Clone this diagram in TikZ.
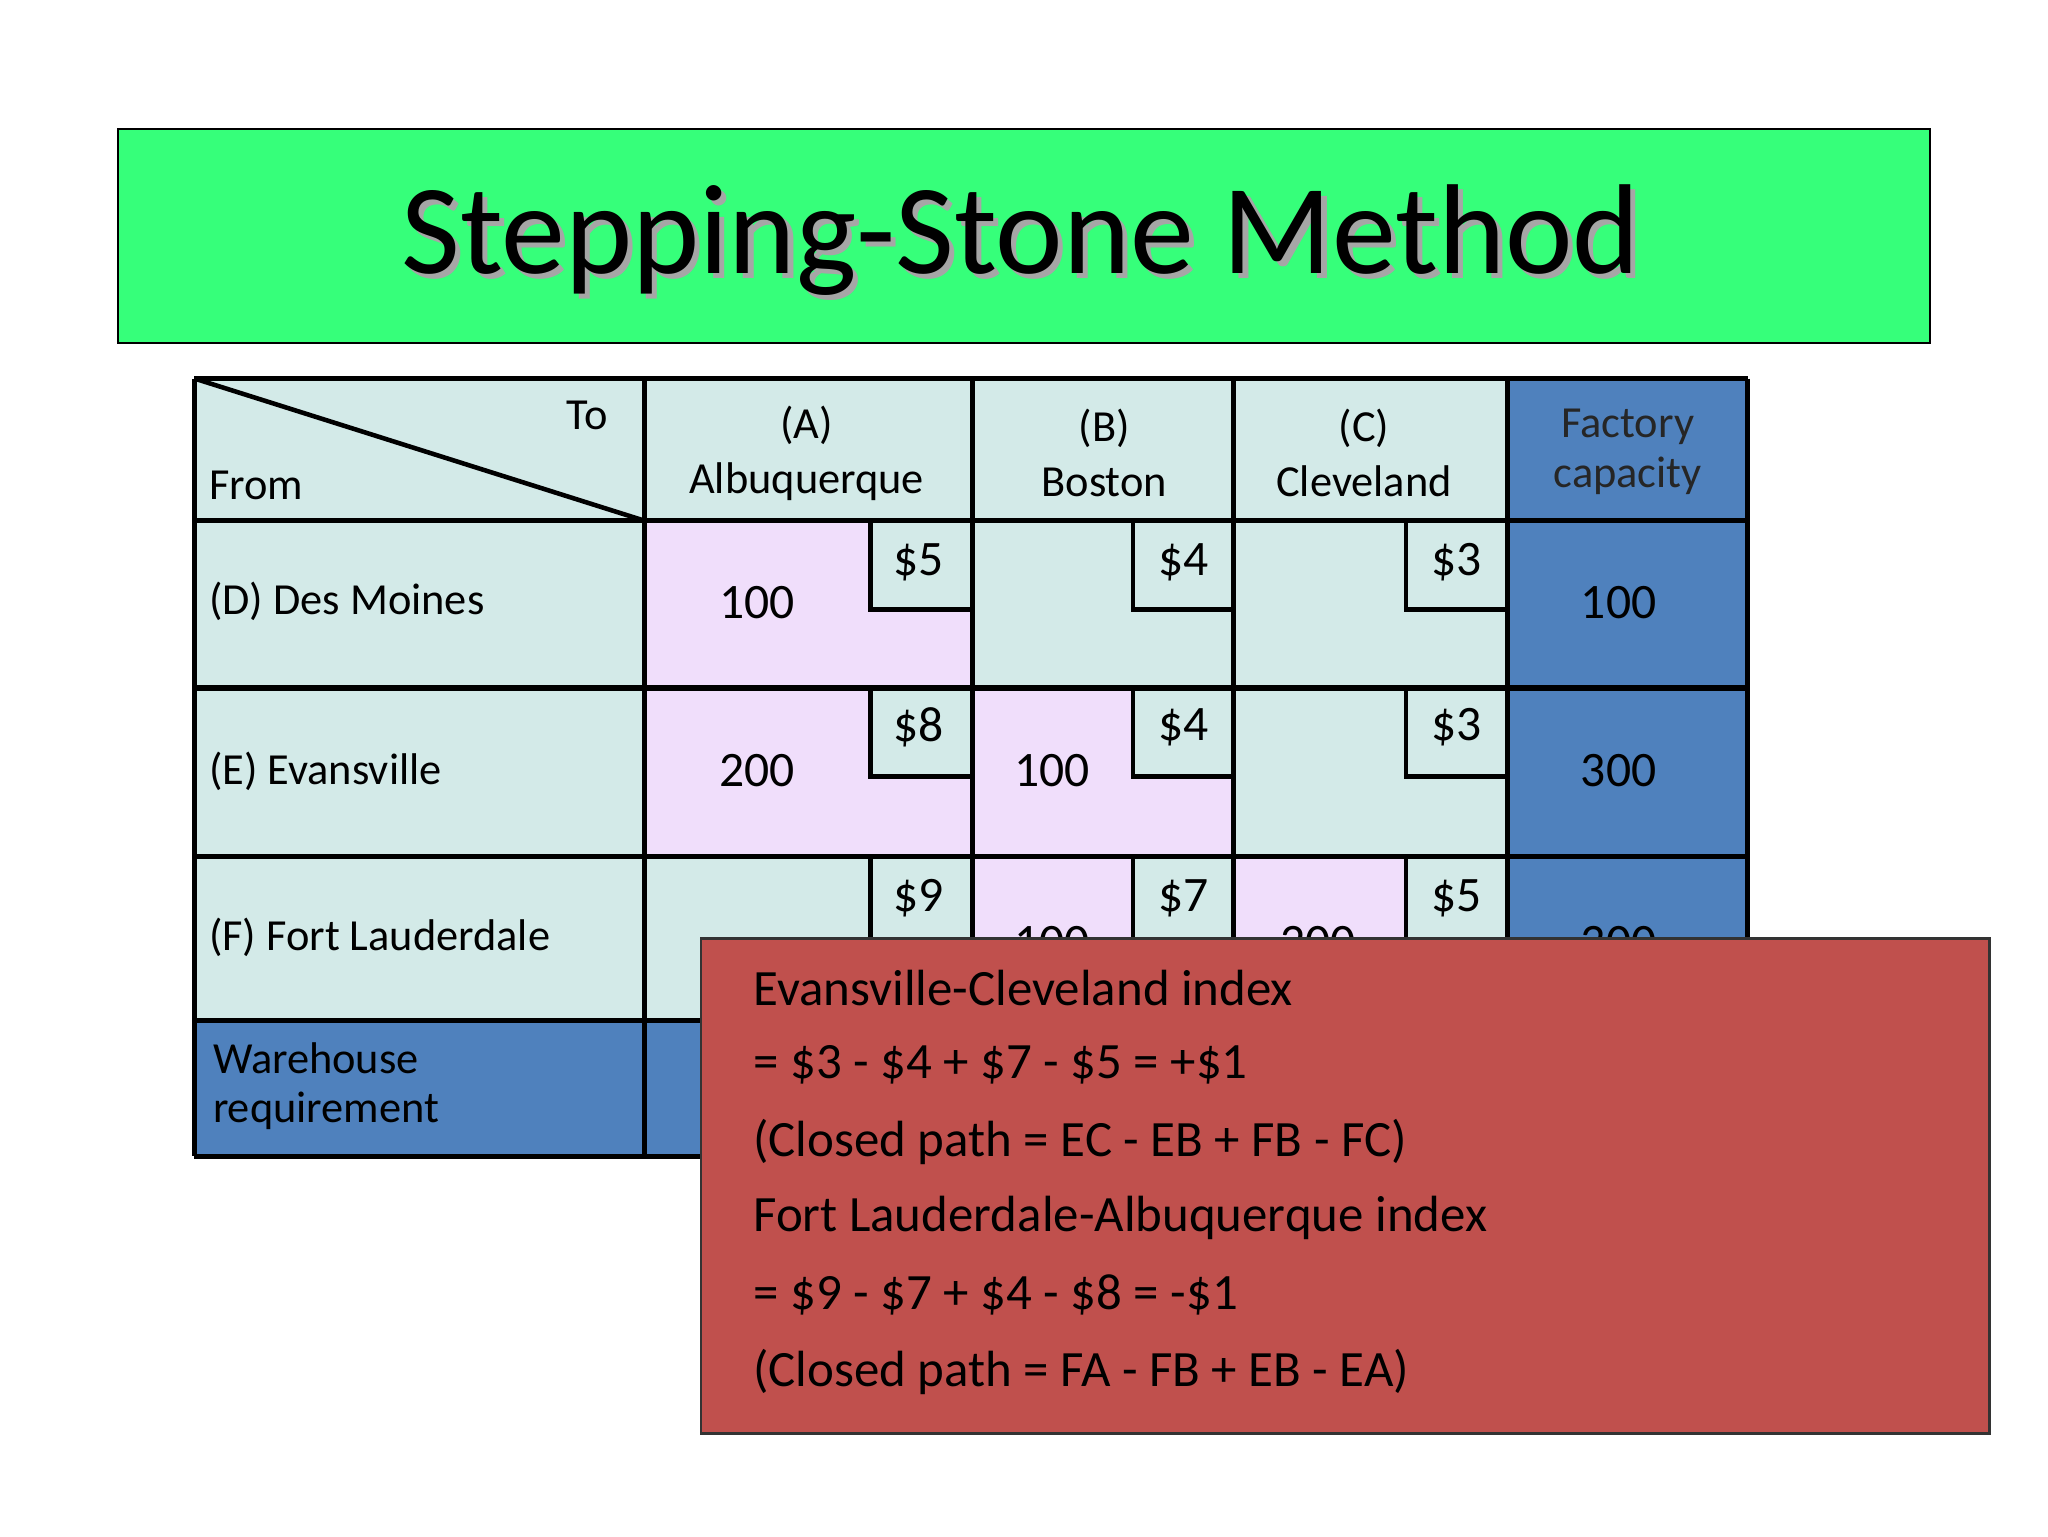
\documentclass[tikz,border=0pt]{standalone}
\usepackage{fontspec}
\setmainfont{Carlito}
\definecolor{tgreen}{HTML}{36FF7A}
\definecolor{lcyan}{HTML}{D3EAE8}
\definecolor{lpink}{HTML}{F0DEFB}
\definecolor{tblue}{HTML}{4F81BD}
\definecolor{tred}{HTML}{C0504D}
\begin{document}
\begin{tikzpicture}[x=1pt,y=-1pt,
  tt/.style={font=\fontsize{34}{38}\selectfont,inner sep=0pt},
  cost/.style={font=\fontsize{38}{42}\selectfont,inner sep=0pt},
  val/.style={font=\fontsize{38}{42}\selectfont,inner sep=0pt},
  rt/.style={font=\fontsize{39}{44}\selectfont,inner sep=0pt,anchor=west}]
\useasboundingbox[fill=white] (0,0) rectangle (1569,1177);
% title
\node[draw=black,line width=1.5pt,fill=tgreen,minimum width=1388pt,minimum height=164pt,anchor=north west,inner sep=0pt] (title) at (90,98) {};
\node[font=\fontsize{98}{106}\selectfont,text=gray!70] at (786,188) {Stepping-Stone Method};
\node[font=\fontsize{98}{106}\selectfont] (tt) at (782,184) {Stepping-Stone Method};
% table fills
\fill[lcyan] (149,290) rectangle (1155,782);
\fill[tblue] (1155,290) rectangle (1339,782);
\fill[tblue] (149,782) rectangle (1339,886);
\foreach \a/\b/\c/\d in {494/399/745/527, 494/527/745/656, 745/527/945/656, 745/656/945/782, 945/656/1155/782}
  \fill[lpink] (\a,\b) rectangle (\c,\d);
% cost boxes
\foreach \cx/\cc in {667/745,868/945,1077/1155}
  \foreach \ry in {399,527,656}{
    \fill[lcyan] (\cx,\ry) rectangle (\cc,\ry+68);
    \draw[line width=3.5pt] (\cx,\ry) -- (\cx,\ry+68) -- (\cc,\ry+68);
  }
% grid
\foreach \x in {149,494,745,945,1155,1339} \draw[line width=4pt] (\x,290) -- (\x,886);
\foreach \y in {290,399,527,656,782,886} \draw[line width=4pt] (149,\y) -- (1339,\y);
\draw[line width=3.5pt] (149,290) -- (494,399);
% header text
\node[tt] (to) at (450,318) {To};
\node[tt,anchor=west] (from) at (160,372) {From};
\node[tt,align=center] (ha) at (618,347) {(A)\\[4pt]Albuquerque};
\node[tt,align=center] (hb) at (846,347) {(B)\\[4pt]Boston};
\node[tt,align=center] (hc) at (1045,347) {(C)\\[4pt]Cleveland};
\node[tt,align=center,text=black!85] (hf) at (1247,346) {Factory\\[0pt]capacity};
\node[tt,anchor=west] (rd) at (160,461) {(D) Des Moines};
\node[tt,anchor=west] (re) at (160,591) {(E) Evansville};
\node[tt,anchor=west] (rf) at (160,718) {(F) Fort Lauderdale};
\node[tt,anchor=west,align=left] (rw) at (163,832) {Warehouse\\[0pt]requirement};
% costs
\node[cost] at (704,431) {\$5}; \node[cost] at (907,431) {\$4}; \node[cost] at (1116,431) {\$3};
\node[cost] at (704,557) {\$8}; \node[cost] at (907,557) {\$4}; \node[cost] at (1116,557) {\$3};
\node[cost] at (704,688) {\$9}; \node[cost] at (907,688) {\$7}; \node[cost] at (1116,688) {\$5};
% values
\node[val] at (580,462) {100}; \node[val] at (1240,462) {100};
\node[val] at (580,590) {200}; \node[val] at (806,590) {100}; \node[val] at (1240,590) {300};
\node[val] at (806,722) {100}; \node[val] at (1010,722) {200}; \node[val] at (1240,722) {300};
% red box
\node[draw=black!80,line width=2pt,fill=tred,minimum width=987pt,minimum height=379pt,anchor=north west,inner sep=0pt] (rb) at (536,718) {};
\node[rt] at (577,757) {Evansville-Cleveland index};
\node[rt] at (577,816) {= \$3 - \$4 + \$7 - \$5 = +\$1};
\node[rt] at (577,875) {(Closed path = EC - EB + FB - FC)};
\node[rt] at (577,933) {Fort Lauderdale-Albuquerque index};
\node[rt] at (577,992) {= \$9 - \$7 + \$4 - \$8 = -\$1};
\node[rt] at (577,1051) {(Closed path = FA - FB + EB - EA)};
\end{tikzpicture}
\end{document}
